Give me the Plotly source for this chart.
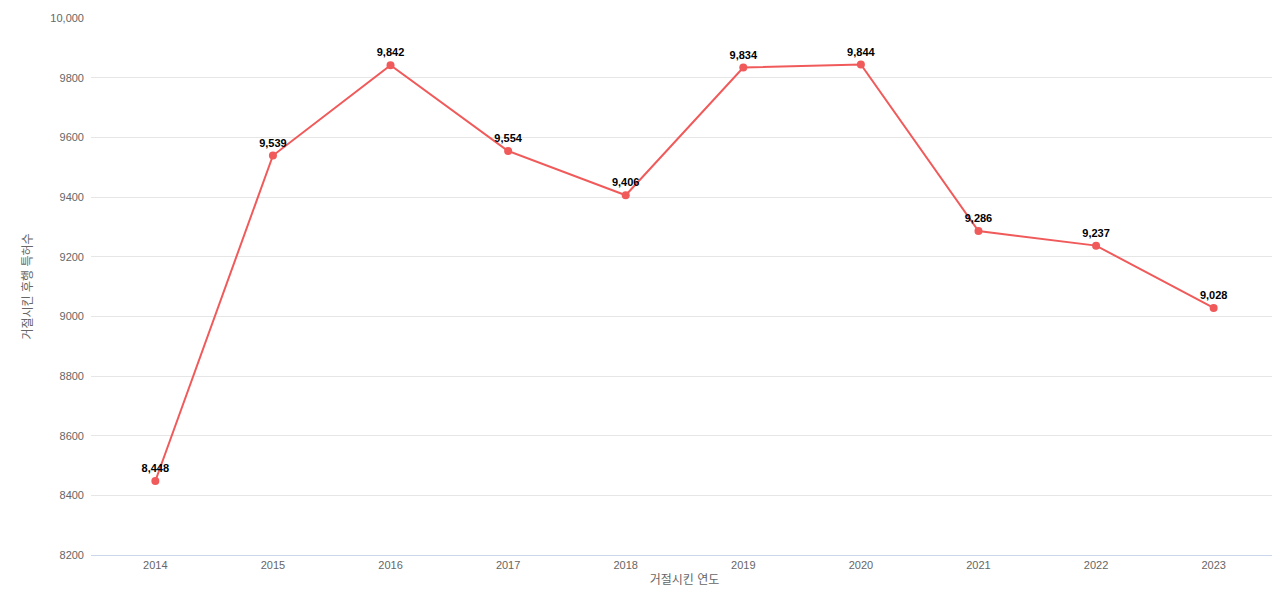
import plotly.graph_objects as go

years = ["2014","2015","2016","2017","2018","2019","2020","2021","2022","2023"]
counts = [8448, 9539, 9842, 9554, 9406, 9834, 9844, 9286, 9237, 9028]

fig = go.Figure(go.Scatter(
    x=years, y=counts, mode="lines+markers+text",
    line=dict(color="#f05a5a", width=2), marker=dict(size=8, color="#f05a5a"),
    text=[f"{v:,}" for v in counts], textposition="top center",
    textfont=dict(size=11, color="black", family="Liberation Sans", weight="bold"),
    cliponaxis=False))
fig.update_layout(
    width=1280, height=600, plot_bgcolor="white", paper_bgcolor="white",
    margin=dict(l=83, r=10, t=10, b=53), showlegend=False,
    font=dict(family="Liberation Sans, Noto Sans CJK KR", size=11, color="#666666"),
    xaxis=dict(title=dict(text="거절시킨 연도", font=dict(size=12, color="#666666"), standoff=5),
               showgrid=False, automargin=False, tickfont=dict(color="#666666"),
               showline=True, linecolor="#ccd6eb", type="category"),
    yaxis=dict(title=dict(text="거절시킨 후행 특허수", font=dict(size=12, color="#666666")),
               range=[8200, 10000], gridcolor="#e6e6e6", automargin=False,
               tickfont=dict(color="#666666"), ticklabelstandoff=6,
               tickvals=list(range(8200, 10001, 200)),
               ticktext=[f"{v}" if v < 10000 else "10,000" for v in range(8200, 10001, 200)],
               zeroline=False),
)
fig.write_html("out.html")
